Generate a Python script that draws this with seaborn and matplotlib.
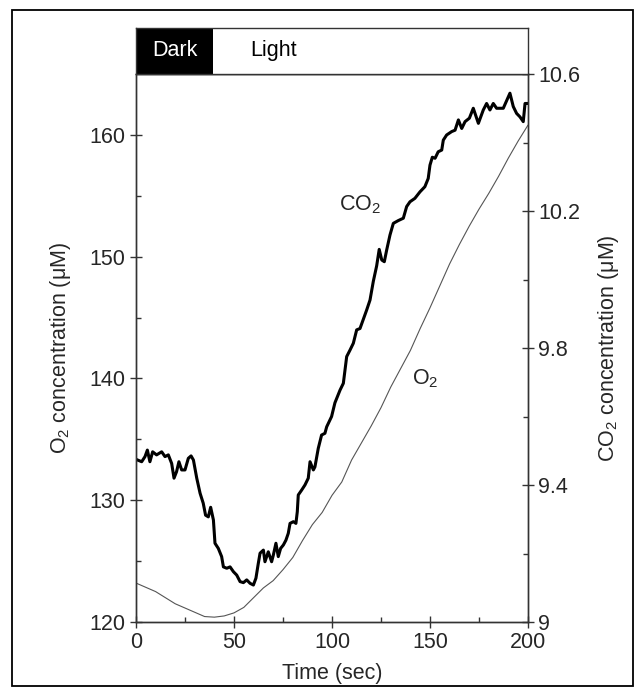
import matplotlib
matplotlib.use("Agg")
import matplotlib.pyplot as plt
import seaborn as sns
import numpy as np
import pandas as pd
from matplotlib.patches import Rectangle
from matplotlib.ticker import FixedLocator

# ---- data ----
t_o2 = [0, 10, 20, 30, 35, 40, 45, 50, 55, 60, 65, 70, 75, 80, 85, 90, 95, 100,
        105, 110, 115, 120, 125, 130, 135, 140, 145, 150, 155, 160, 165, 170,
        175, 180, 185, 190, 195, 200]
o2 = [123.2, 122.5, 121.5, 120.8, 120.45, 120.4, 120.5, 120.75, 121.2, 122.0,
      122.8, 123.4, 124.3, 125.3, 126.7, 128.0, 129.0, 130.4, 131.5, 133.3,
      134.7, 136.1, 137.6, 139.3, 140.8, 142.3, 144.1, 145.8, 147.6, 149.4,
      151.0, 152.5, 153.9, 155.2, 156.6, 158.1, 159.5, 160.8]

t_co2 = [0, 2.9, 4.6, 5.8, 7.1, 8.5, 10.5, 13.1, 14.8, 16.5, 18.2, 19.4, 20.7,
         21.9, 23.3, 25.0, 26.7, 28.1, 29.3, 31.0, 32.7, 34.3, 35.5, 36.9, 38.1,
         39.5, 40.3, 42.0, 43.7, 44.6, 46.3, 48.0, 49.7, 51.4, 53.1, 54.8, 56.5,
         58.2, 59.9, 61.2, 62.4, 63.3, 65.0, 65.8, 67.5, 69.2, 70.1, 71.4, 72.6,
         73.8, 75.2, 76.5, 77.7, 78.6, 80.3, 81.6, 82.3, 82.8, 84.5, 86.2, 87.9,
         88.8, 90.5, 91.3, 93.0, 94.7, 96.4, 97.3, 99.8, 101.5, 104.1, 105.8,
         107.5, 109.2, 110.9, 112.6, 114.3, 117.7, 119.4, 121.1, 122.8, 124.1,
         125.4, 126.7, 127.9, 129.6, 131.3, 133.8, 136.4, 138.1, 139.8, 142.3,
         144.9, 147.4, 149.1, 150.0, 151.2, 152.6, 154.2, 156.0, 156.8, 158.5,
         161.1, 162.8, 164.5, 166.2, 167.9, 170.1, 172.1, 174.7, 177.2, 178.9,
         180.6, 182.3, 184.0, 187.4, 190.8, 192.5, 194.2, 195.9, 197.6, 198.5,
         200.0]
co2 = [9.475, 9.468, 9.483, 9.502, 9.468, 9.497, 9.488, 9.497, 9.483, 9.488,
       9.463, 9.420, 9.439, 9.468, 9.444, 9.444, 9.478, 9.485, 9.473, 9.420,
       9.376, 9.347, 9.312, 9.307, 9.335, 9.298, 9.230, 9.215, 9.191, 9.161,
       9.157, 9.161, 9.147, 9.137, 9.118, 9.115, 9.123, 9.113, 9.108, 9.128,
       9.171, 9.201, 9.210, 9.176, 9.205, 9.176, 9.196, 9.230, 9.191, 9.215,
       9.225, 9.239, 9.259, 9.288, 9.293, 9.288, 9.322, 9.371, 9.385, 9.400,
       9.420, 9.468, 9.444, 9.453, 9.507, 9.546, 9.551, 9.570, 9.600, 9.640,
       9.677, 9.697, 9.775, 9.794, 9.814, 9.853, 9.857, 9.911, 9.940, 9.995,
       10.040, 10.088, 10.057, 10.052, 10.086, 10.130, 10.164, 10.172, 10.179,
       10.213, 10.227, 10.237, 10.256, 10.271, 10.295, 10.334, 10.357, 10.354,
       10.373, 10.378, 10.407, 10.422, 10.432, 10.436, 10.466, 10.441, 10.461,
       10.471, 10.500, 10.456, 10.495, 10.514, 10.495, 10.514, 10.500, 10.500,
       10.544, 10.505, 10.485, 10.475, 10.461, 10.514, 10.514]

x_ticks = [0, 50, 100, 150, 200]
o2_ticks = [120, 130, 140, 150, 160]
co2_ticks = [9.0, 9.4, 9.8, 10.2, 10.6]
co2_tick_labels = ["9", "9.4", "9.8", "10.2", "10.6"]
dark_end = 39.3

# ---- style ----
sns.set_style("ticks")
plt.rcParams["font.family"] = ["Liberation Sans", "DejaVu Sans"]
plt.rcParams["mathtext.fontset"] = "custom"
plt.rcParams["mathtext.rm"] = "Liberation Sans"
plt.rcParams["mathtext.it"] = "Liberation Sans"
plt.rcParams["mathtext.default"] = "regular"

FS = 15.5
SPC = "#333333"

fig = plt.figure(figsize=(6.43, 6.95), dpi=100)
fig.patch.set_facecolor("white")
# outer frame
fig.add_artist(Rectangle((0.0187, 0.013), 0.9657, 0.9733, transform=fig.transFigure,
                         fill=False, edgecolor="black", lw=1.3))

ax = fig.add_axes([0.2115, 0.1050, 0.6096, 0.7885])
ax2 = ax.twinx()

df_o2 = pd.DataFrame({"t": t_o2, "o2": o2})
df_co2 = pd.DataFrame({"t": t_co2, "co2": co2})
sns.lineplot(data=df_o2, x="t", y="o2", ax=ax, color="#555555", lw=0.8)
sns.lineplot(data=df_co2, x="t", y="co2", ax=ax2, color="black", lw=2.2)

ax.set_xlim(0, 200)
ax.set_ylim(120, 165)
ax2.set_ylim(9.0, 10.6)

for a in (ax, ax2):
    for s in a.spines.values():
        s.set_color(SPC)
        s.set_linewidth(1.0)
        s.set_visible(True)

ax.set_xticks(x_ticks)
ax.xaxis.set_minor_locator(FixedLocator([25, 75, 125, 175]))
ax.set_yticks(o2_ticks)
ax.yaxis.set_minor_locator(FixedLocator([125, 135, 145, 155]))
ax2.set_yticks(co2_ticks)
ax2.set_yticklabels(co2_tick_labels)
ax2.yaxis.set_minor_locator(FixedLocator([9.2, 9.6, 10.0, 10.4]))

ax.tick_params(axis="both", which="major", direction="inout", length=9, width=1,
               color=SPC, labelsize=FS, pad=3, top=False)
ax.tick_params(axis="both", which="minor", direction="in", length=3.5, width=1,
               color=SPC, top=False)
ax2.tick_params(axis="y", which="major", direction="inout", length=9, width=1,
                color=SPC, labelsize=FS, pad=3)
ax2.tick_params(axis="y", which="minor", direction="in", length=3.5, width=1, color=SPC)

ax.set_xlabel("Time (sec)", fontsize=FS, labelpad=7)
ax.set_ylabel("O$_2$ concentration (\u03bcM)", fontsize=FS, labelpad=12)
ax2.set_ylabel("CO$_2$ concentration (\u03bcM)", fontsize=FS, labelpad=11)

ax2.text(114.3, 10.218, "CO$_2$", fontsize=FS, ha="center", va="center")
ax.text(147.5, 140.0, "O$_2$", fontsize=FS, ha="center", va="center")

# header box
hb = fig.add_axes([0.2115, 0.8935, 0.6096, 0.0669])
hb.set_xlim(0, 200)
hb.set_ylim(0, 1)
hb.add_patch(Rectangle((0, 0), dark_end, 1, facecolor="black", edgecolor="none"))
hb.text(dark_end / 2, 0.5, "Dark", color="white", fontsize=FS, ha="center", va="center")
hb.text(58.5, 0.5, "Light", color="black", fontsize=FS, ha="left", va="center")
hb.set_xticks([])
hb.set_yticks([])
for s in hb.spines.values():
    s.set_color(SPC)
    s.set_linewidth(1.0)

fig.savefig("out.png", dpi=100, facecolor="white")
